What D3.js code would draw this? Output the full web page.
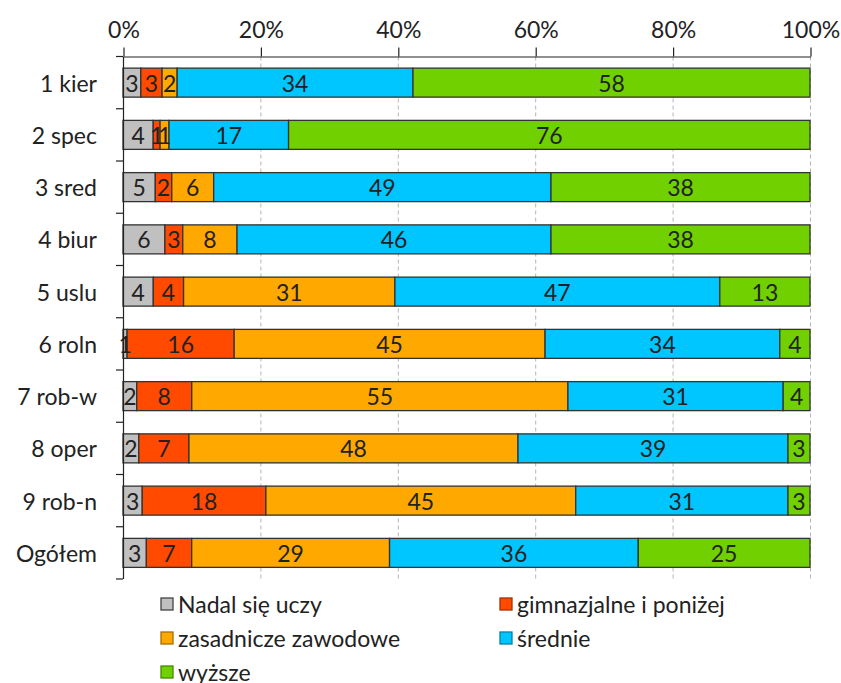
<!DOCTYPE html>
<html><head><meta charset="utf-8">
<script src="https://cdn.jsdelivr.net/npm/d3@7"></script>
<style>body{margin:0;background:#fff}svg{display:block}text{font-family:Lato,"Noto Sans",sans-serif;fill:#222}</style>
</head><body><svg id="c" width="841" height="683"></svg>
<script>
const categories = ["1 kier","2 spec","3 sred","4 biur","5 uslu","6 roln","7 rob-w","8 oper","9 rob-n","Ogółem"];
const seriesNames = ["Nadal się uczy","gimnazjalne i poniżej","zasadnicze zawodowe","średnie","wyższe"];
const nadal      = [2.6, 4.4, 4.7, 6.1, 4.4, 0.6, 2.0, 2.3, 2.8, 3.4];
const gimnazjalne= [3.1, 1.0, 2.4, 2.6, 4.4, 15.6, 8.0, 7.3, 18.0, 6.6];
const zasadnicze = [2.2, 1.3, 6.1, 7.9, 30.7, 45.3, 54.7, 47.9, 45.1, 28.8];
const srednie    = [34.4, 17.4, 49.1, 45.7, 47.2, 34.2, 31.3, 39.3, 30.9, 36.2];
const wyzsze     = [57.9, 75.9, 37.7, 37.7, 13.1, 4.4, 3.9, 3.2, 3.2, 25.0];
const labels = [
  [3,3,2,34,58],[4,1,1,17,76],[5,2,6,49,38],[6,3,8,46,38],[4,4,31,47,13],
  [1,16,45,34,4],[2,8,55,31,4],[2,7,48,39,3],[3,18,45,31,3],[3,7,29,36,25]
];
const xTicks = [0,20,40,60,80,100];
const colors = ["#C0C0C0","#FF4A00","#FFA800","#00C6FF","#70D000"];

(function(){
const svg = d3.select("#c");
const pl = 123, pr = 810, pt = 56.5, pb = 579;
const x = d3.scaleLinear().domain([0,100]).range([pl,pr]);
const y = d3.scaleBand().domain(categories).range([pt,pb]).paddingInner(0.445).paddingOuter(0.2225);

svg.append("g").selectAll("line").data(xTicks.slice(1)).join("line")
  .attr("x1",d=>x(d)+0.5).attr("x2",d=>x(d)+0.5).attr("y1",pt).attr("y2",pb)
  .attr("stroke","#b5b5b5").attr("stroke-dasharray","4,3").attr("stroke-width",1);

const series = [nadal,gimnazjalne,zasadnicze,srednie,wyzsze];
const rows = categories.map((c,i)=>{
  let acc=0; const segs=[];
  series.forEach((s,k)=>{ segs.push({cat:c,k,x0:acc,x1:acc+s[i],label:labels[i][k]}); acc+=s[i]; });
  const tot=acc; segs.forEach(s=>{s.x0=s.x0/tot*100;s.x1=s.x1/tot*100;});
  return segs;
}).flat();

const g = svg.append("g");
g.selectAll("rect").data(rows).join("rect")
  .attr("x",d=>x(d.x0)).attr("width",d=>x(d.x1)-x(d.x0))
  .attr("y",d=>y(d.cat)).attr("height",y.bandwidth())
  .attr("fill",d=>colors[d.k]).attr("stroke","#333").attr("stroke-width",1.3);
g.selectAll("text").data(rows).join("text")
  .attr("x",d=>(x(d.x0)+x(d.x1))/2).attr("y",d=>y(d.cat)+y.bandwidth()/2)
  .attr("text-anchor","middle").attr("dominant-baseline","central")
  .style("font-size","23px").text(d=>d.label);

const ax = d3.axisTop(x).tickValues(xTicks).tickFormat(d=>d+"%").tickSize(9).tickSizeOuter(0);
const axg = svg.append("g").attr("transform",`translate(0.5,${pt})`).call(ax);
axg.select(".domain").attr("stroke","#222").attr("stroke-width",1.2);
axg.selectAll(".tick line").attr("stroke","#222").attr("stroke-width",1.2);
axg.selectAll(".tick text").attr("y",-19).style("font-size","23px").style("font-family","Lato").attr("fill","#222");

const boundaries = categories.map(c=>y(c)-y.step()*y.paddingInner()/2).concat([pb]);
svg.append("line").attr("x1",pl+0.5).attr("x2",pl+0.5).attr("y1",pt).attr("y2",pb).attr("stroke","#222").attr("stroke-width",1.2);
svg.append("g").selectAll("line").data(boundaries).join("line")
  .attr("x1",pl-7).attr("x2",pl).attr("y1",d=>d).attr("y2",d=>d)
  .attr("stroke","#222").attr("stroke-width",1.2);
svg.append("g").selectAll("text").data(categories).join("text")
  .attr("x",97).attr("y",d=>y(d)+y.bandwidth()/2).attr("text-anchor","end")
  .attr("dominant-baseline","central").style("font-size","23px").text(d=>d);

const legPos = [[161,604],[500,604],[161,638],[500,638],[161,672]];
const lg = svg.append("g");
seriesNames.forEach((n,i)=>{
  const [lx,ly]=legPos[i];
  lg.append("rect").attr("x",lx).attr("y",ly-6).attr("width",12).attr("height",12)
    .attr("fill",colors[i]).attr("stroke", i===0?"#444":d3.color(colors[i]).darker(1.2)).attr("stroke-width",1.3);
  lg.append("text").attr("x",lx+17).attr("y",ly).attr("dominant-baseline","central").style("font-size","23px").text(n);
});
})();
</script></body></html>
